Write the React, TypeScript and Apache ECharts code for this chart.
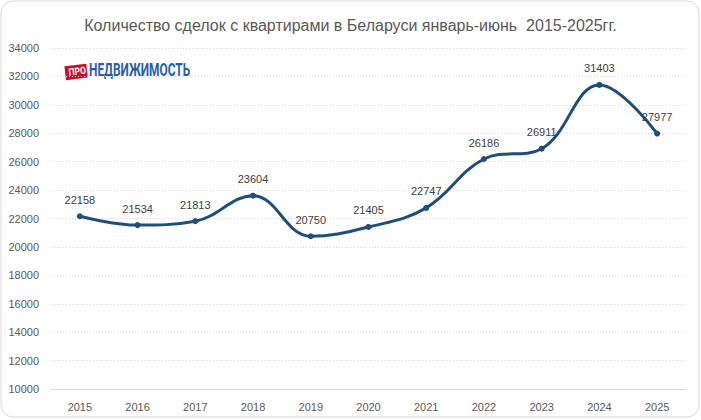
import React, { useEffect, useRef } from "react";
import * as echarts from "echarts";

const years = ["2015","2016","2017","2018","2019","2020","2021","2022","2023","2024","2025"];
const deals = [22158, 21534, 21813, 23604, 20750, 21405, 22747, 26186, 26911, 31403, 27977];
const titleText = "Количество сделок с квартирами в Беларуси январь-июнь  2015-2025гг.";

export default function App() {
  const ref = useRef<HTMLDivElement>(null);
  useEffect(() => {
    const chart = echarts.init(ref.current!, null, { renderer: "svg" });
    chart.setOption({
      animation: false,
      backgroundColor: "#fff",
      title: {
        text: titleText,
        left: "center",
        top: 12,
        textStyle: { fontFamily: "Liberation Sans", fontSize: 16, fontWeight: "normal", color: "#595959" },
      },
      grid: { left: 51, right: 15, top: 48, bottom: 31 },
      xAxis: {
        type: "category",
        data: years,
        boundaryGap: true,
        axisLine: { lineStyle: { color: "#d9d9d9" } },
        axisTick: { show: false },
        axisLabel: { color: "#595959", fontSize: 11, fontFamily: "Liberation Sans", margin: 12 },
      },
      yAxis: {
        type: "value",
        min: 10000,
        max: 34000,
        interval: 2000,
        axisLine: { show: false },
        axisTick: { show: false },
        axisLabel: { color: "#595959", fontSize: 11, fontFamily: "Liberation Sans", margin: 12, formatter: (v: number) => String(v) },
        splitLine: { lineStyle: { color: "#d9d9d9", type: [1, 2] } },
      },
      series: [
        {
          type: "line",
          data: deals,
          smooth: 0.4,
          symbol: "circle",
          symbolSize: 6,
          lineStyle: { color: "#1f4e79", width: 3 },
          itemStyle: { color: "#1f4e79" },
          label: {
            show: true,
            position: "top",
            distance: 8,
            color: "#404040",
            fontSize: 11,
            fontFamily: "Liberation Sans",
          },
        },
      ],
      graphic: [
        {
          type: "rect",
          shape: { x: 1, y: 1, width: 698, height: 416, r: 12 },
          style: { fill: "none", stroke: "#d9d9d9", lineWidth: 1 },
          silent: true,
        },
        {
          type: "group",
          x: 65,
          y: 62,
          children: [
            {
              type: "rect",
              shape: { x: 0, y: 3, width: 22, height: 14 },
              rotation: 0.12,
              originX: 11,
              originY: 9,
              style: { fill: "#c8102e" },
            },
            {
              type: "text",
              x: 3,
              y: 5,
              scaleX: 0.85,
              rotation: 0.12,
              style: { text: "ПРО", fill: "#fff", fontSize: 10, fontWeight: "bold", fontFamily: "Roboto" },
            },
            {
              type: "text",
              x: 24,
              y: -1,
              scaleX: 0.66,
              style: { text: "НЕДВИЖИМОСТЬ", fill: "#2b5da8", fontSize: 18, fontWeight: "bold", fontFamily: "Roboto" },
            },
          ],
        },
      ],
    });
    return () => chart.dispose();
  }, []);
  return <div ref={ref} style={{ width: 701, height: 420, position: "absolute", left: 0, top: 0 }} />;
}
